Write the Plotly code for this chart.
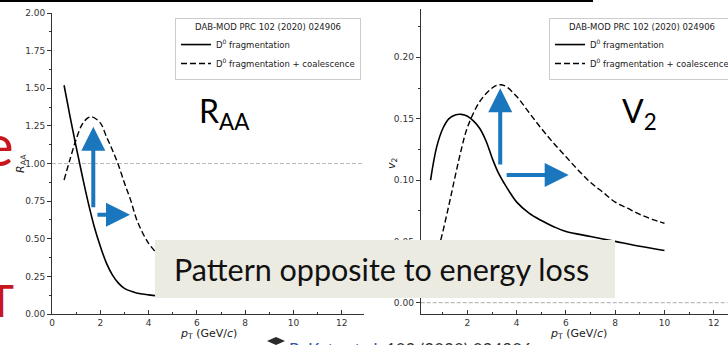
import plotly.graph_objects as go

# ---- D0 R_AA vs pT (DAB-MOD) ----
raa_frag_pt = [0.5, 0.75, 1.0, 1.25, 1.5, 1.75, 2.0, 2.25, 2.5, 2.75, 3.0, 3.5, 4.0, 4.4]
raa_frag = [1.52, 1.31, 1.11, 0.92, 0.74, 0.58, 0.45, 0.34, 0.26, 0.205, 0.17, 0.14, 0.127, 0.12]
raa_coal_pt = [0.5, 0.75, 1.0, 1.25, 1.5, 1.65, 2.0, 2.25, 2.5, 2.75, 3.0, 3.25, 3.5, 3.75, 4.0, 4.3]
raa_coal = [0.89, 1.03, 1.16, 1.26, 1.305, 1.31, 1.27, 1.18, 1.09, 0.99, 0.87, 0.76, 0.63, 0.54, 0.47, 0.41]

# ---- D0 v2 vs pT (DAB-MOD) ----
v2_frag_pt = [0.5, 0.75, 1.0, 1.25, 1.5, 1.75, 2.0, 2.25, 2.5, 2.75, 3.0, 3.25, 3.5, 3.75, 4.0, 4.5,
              5.0, 5.5, 6.0, 7.0, 8.0, 9.0, 10.0]
v2_frag = [0.100, 0.127, 0.142, 0.150, 0.153, 0.1535, 0.152, 0.148, 0.142, 0.132, 0.118, 0.106, 0.097,
           0.089, 0.082, 0.073, 0.067, 0.062, 0.058, 0.054, 0.050, 0.046, 0.0425]
v2_coal_pt = [0.6, 0.9, 1.25, 1.5, 1.75, 2.0, 2.5, 3.0, 3.25, 3.5, 4.0, 4.5, 5.0, 5.5, 6.0, 6.5, 7.0,
              7.5, 8.0, 8.5, 9.0, 9.5, 10.0]
v2_coal = [0.030, 0.050, 0.080, 0.103, 0.125, 0.143, 0.164, 0.175, 0.1775, 0.177, 0.168, 0.155, 0.142,
           0.130, 0.119, 0.108, 0.098, 0.090, 0.082, 0.077, 0.072, 0.068, 0.0648]

legend_title = "DAB-MOD PRC 102 (2020) 024906"
name_frag = "D<sup>0</sup> fragmentation"
name_coal = "D<sup>0</sup> fragmentation + coalescence"
banner = "Pattern opposite to energy loss"

W, H = 728, 345
BLUE = "#1a76bd"
RED = "#c8161d"
DASH = "6px,3px"

fig = go.Figure()
fig.add_trace(go.Scatter(x=raa_frag_pt, y=raa_frag, mode="lines", name=name_frag,
                         line=dict(color="black", width=1.6, shape="spline"),
                         xaxis="x", yaxis="y", legend="legend"))
fig.add_trace(go.Scatter(x=raa_coal_pt, y=raa_coal, mode="lines", name=name_coal,
                         line=dict(color="black", width=1.4, dash=DASH, shape="spline"),
                         xaxis="x", yaxis="y", legend="legend"))
fig.add_trace(go.Scatter(x=v2_frag_pt, y=v2_frag, mode="lines", name=name_frag,
                         line=dict(color="black", width=1.6, shape="spline"),
                         xaxis="x2", yaxis="y2", legend="legend2"))
fig.add_trace(go.Scatter(x=v2_coal_pt, y=v2_coal, mode="lines", name=name_coal,
                         line=dict(color="black", width=1.4, dash=DASH, shape="spline"),
                         xaxis="x2", yaxis="y2", legend="legend2"))

tick_font = dict(family="DejaVu Sans", size=9, color="#333")
legend_font = dict(family="DejaVu Sans", size=8.5, color="#222")


def px_x(p):
    return p / W


def px_y(p):
    return 1 - p / H


dom_x1 = [px_x(52), px_x(364)]
dom_x2 = [px_x(420.7), px_x(727.5)]
dom_y1 = [px_y(314), px_y(13)]
dom_y2 = [px_y(314), px_y(9)]

x1_range = [0, 12.92]
y1_range = [0, 2.0]
x2_range = [0.1, 12.56]
y2_range = [-0.0092, 0.2394]

common = dict(showgrid=False, zeroline=False, showline=True, linecolor="#333", linewidth=1,
              tickfont=tick_font, tickcolor="#333")

fig.update_layout(
    width=W, height=H, margin=dict(l=0, r=0, t=0, b=0, autoexpand=False),
    paper_bgcolor="white", plot_bgcolor="white", showlegend=True,
    xaxis=dict(domain=dom_x1, range=x1_range, anchor="y", tickmode="linear", tick0=0, dtick=2,
               ticks="inside", ticklen=4, minor=dict(dtick=1, ticks="inside", ticklen=2, tickcolor="#333"),
               **common),
    yaxis=dict(domain=dom_y1, range=y1_range, anchor="x", tickmode="linear", tick0=0, dtick=0.25,
               tickformat=".2f", ticks="outside", ticklen=4,
               minor=dict(dtick=0.125, ticks="outside", ticklen=2, tickcolor="#333"), **common),
    xaxis2=dict(domain=dom_x2, range=x2_range, anchor="y2", tickmode="linear", tick0=0, dtick=2,
                ticks="inside", ticklen=4, minor=dict(dtick=1, ticks="inside", ticklen=2, tickcolor="#333"),
                **common),
    yaxis2=dict(domain=dom_y2, range=y2_range, anchor="x2", tickmode="linear", tick0=0, dtick=0.05,
                tickformat=".2f", ticks="outside", ticklen=4,
                minor=dict(dtick=0.025, ticks="outside", ticklen=2, tickcolor="#333"), **common),
    # mirrored frame with inward ticks
    xaxis3=dict(overlaying="x", anchor="y", side="top", range=x1_range, tickmode="linear", tick0=0, dtick=1,
                ticks="inside", ticklen=3, showticklabels=False, **common),
    yaxis3=dict(overlaying="y", anchor="x", side="right", range=y1_range, tickmode="linear", tick0=0,
                dtick=0.125, ticks="inside", ticklen=3, showticklabels=False, **common),
    xaxis4=dict(overlaying="x2", anchor="y2", side="top", range=x2_range, tickmode="linear", tick0=0, dtick=1,
                ticks="inside", ticklen=3, showticklabels=False, **common),
    yaxis4=dict(overlaying="y2", anchor="x2", side="right", range=y2_range, tickmode="linear", tick0=0,
                dtick=0.025, ticks="inside", ticklen=3, showticklabels=False, **common),
    legend=dict(x=px_x(361), y=px_y(18), xanchor="right", yanchor="top", bgcolor="white",
                bordercolor="#cccccc", borderwidth=1, tracegroupgap=0, itemwidth=30,
                font=legend_font, title=dict(text=legend_title, side="top center", font=legend_font)),
    legend2=dict(x=px_x(549), y=px_y(18), xanchor="left", yanchor="top", bgcolor="white",
                 bordercolor="#cccccc", borderwidth=1, tracegroupgap=0, itemwidth=30,
                 font=legend_font, title=dict(text=legend_title, side="top center", font=legend_font)),
)

shapes = [
    # reference lines
    dict(type="line", xref="x domain", yref="y", x0=0, x1=1, y0=1.0, y1=1.0,
         line=dict(color="#bbbbbb", width=1, dash="4px,2px"), layer="below"),
    dict(type="line", xref="x2 domain", yref="y2", x0=0, x1=1, y0=0.0, y1=0.0,
         line=dict(color="#aaaaaa", width=1, dash="4px,2px"), layer="below"),
    # header rule
    dict(type="line", xref="paper", yref="paper", x0=0, x1=px_x(593), y0=px_y(1), y1=px_y(1),
         line=dict(color="black", width=2), layer="above"),
    # banner box
    dict(type="rect", xref="paper", yref="paper", x0=px_x(155), x1=px_x(615), y0=px_y(298), y1=px_y(240),
         fillcolor="#ecebe2", line=dict(width=0), layer="above"),
    # graduation cap
    dict(type="path", xref="paper", yref="paper",
         path=f"M {px_x(267)} {px_y(341)} L {px_x(276)} {px_y(337)} L {px_x(285)} {px_y(341)} "
              f"L {px_x(276)} {px_y(345)} Z",
         fillcolor="#2b2b2b", line=dict(width=0), layer="above"),
]

title_font = dict(family="DejaVu Sans", size=11, color="#222")
annotations = [
    # axis titles
    dict(xref="paper", yref="paper", x=px_x(208), y=px_y(334), xanchor="center", yanchor="middle",
         text="<i>p</i><sub>T</sub> (GeV/<i>c</i>)", showarrow=False, font=title_font),
    dict(xref="paper", yref="paper", x=px_x(578), y=px_y(334), xanchor="center", yanchor="middle",
         text="<i>p</i><sub>T</sub> (GeV/<i>c</i>)", showarrow=False, font=title_font),
    dict(xref="paper", yref="paper", x=px_x(21), y=px_y(164), xanchor="center", yanchor="middle",
         text="<i>R</i><sub>AA</sub>", textangle=-90, showarrow=False, font=title_font),
    dict(xref="paper", yref="paper", x=px_x(392), y=px_y(163), xanchor="center", yanchor="middle",
         text="<i>v</i><sub>2</sub>", textangle=-90, showarrow=False, font=title_font),
    # panel labels
    dict(xref="paper", yref="paper", x=px_x(197), y=px_y(113), xanchor="left", yanchor="middle",
         text="R<sub>AA</sub>", showarrow=False, font=dict(family="Lato", size=32, color="black")),
    dict(xref="paper", yref="paper", x=px_x(620), y=px_y(113), xanchor="left", yanchor="middle",
         text="V<sub>2</sub>", showarrow=False, font=dict(family="Lato", size=32, color="black")),
    # banner text
    dict(xref="paper", yref="paper", x=px_x(381), y=px_y(269), xanchor="center", yanchor="middle",
         text=banner, showarrow=False, font=dict(family="Lato", size=30.5, color="#111")),
    # slide text at the left edge
    dict(xref="paper", yref="paper", x=px_x(16), y=px_y(143), xanchor="right", yanchor="middle",
         text="e", showarrow=False, font=dict(family="Lato", size=58, color=RED)),
    dict(xref="paper", yref="paper", x=px_x(1), y=px_y(300), xanchor="center", yanchor="middle",
         text="T", showarrow=False, font=dict(family="Lato", size=44, color=RED)),
    # citation line (partially visible)
    dict(xref="paper", yref="paper", x=px_x(287), y=px_y(337), xanchor="left", yanchor="top",
         text="<span style='color:#2f55a4'>R. Katz et al.</span> 102 (2020) 024906", showarrow=False,
         font=dict(family="Lato", size=17, color="#333")),
]

# arrows: (axis ids, tip, tail)
arrows = [
    ("x", "y", 1.71, 1.245, 1.71, 0.70),
    ("x", "y", 3.23, 0.66, 1.82, 0.66),
    ("x2", "y2", 3.33, 0.1748, 3.33, 0.1114),
    ("x2", "y2", 6.11, 0.104, 3.53, 0.104),
]
for xr, yr, xt, yt, xs, ys in arrows:
    annotations.append(dict(xref=xr, yref=yr, axref=xr, ayref=yr, x=xt, y=yt, ax=xs, ay=ys, text="",
                            showarrow=True, arrowhead=2, arrowsize=1.2, arrowwidth=4, arrowcolor=BLUE,
                            standoff=0, startstandoff=0))

fig.update_layout(shapes=shapes, annotations=annotations)
fig.write_html("out.html")
